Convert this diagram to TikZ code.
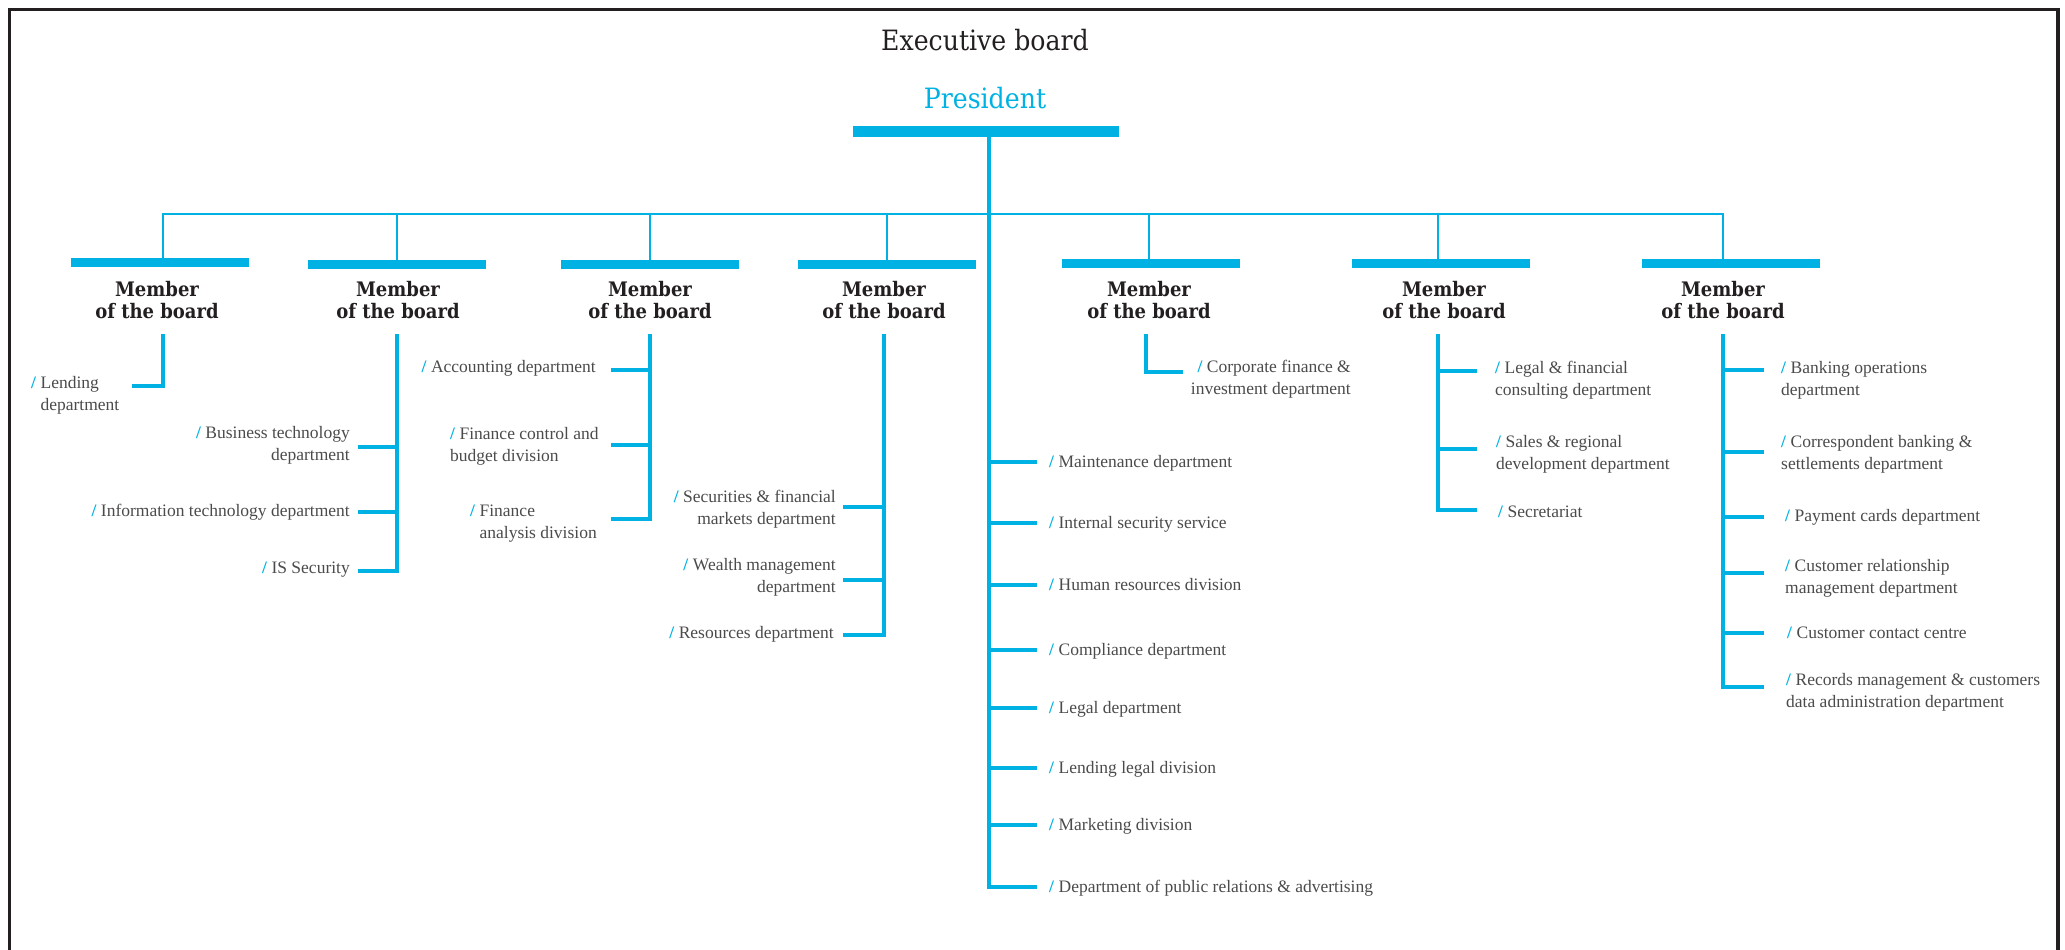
\documentclass[tikz,border=0pt]{standalone}
\usepackage{fontspec}
\setmainfont{Liberation Serif}
\newfontfamily\slab{DejaVu Serif Condensed}
\definecolor{cy}{RGB}{0,178,227}
\definecolor{dark}{RGB}{35,31,32}
\definecolor{txt}{RGB}{75,75,75}
\newcommand{\cslash}{\textcolor{cy}{\textbf{/}}\ }
\newcommand{\hangin}{\hphantom{\textbf{/}\ }}
\begin{document}
\begin{tikzpicture}[x=1pt,y=-1pt,
  bar/.style={fill=cy,draw=none,minimum width=178pt,minimum height=9pt,inner sep=0pt,anchor=north},
  thinline/.style={draw=cy,line width=2pt},
  branch/.style={draw=cy,line width=3.2pt},
  dept/.style={font=\fontsize{17.5}{22}\selectfont,text=txt,inner sep=0pt},
  head/.style={font=\slab\bfseries\fontsize{20}{22}\selectfont,text=dark,align=center,inner sep=0pt,anchor=north},
  frame/.style={draw=dark,line width=3.5pt}]
\useasboundingbox (0,0) rectangle (2065,950);
% frame (open at the bottom)
\coordinate (fbl) at (9.5,952);
\coordinate (ftl) at (9.5,9.5);
\coordinate (ftr) at (2058,9.5);
\coordinate (fbr) at (2058,952);
\draw[frame] (fbl) -- (ftl) -- (ftr) -- (fbr);

% titles
\node[font=\slab\fontsize{28}{32}\selectfont,text=dark,anchor=base,inner sep=0pt] (title) at (985,51) {Executive board};
\node[font=\slab\fontsize{28}{32}\selectfont,text=cy,anchor=base,inner sep=0pt] (pres) at (985,109) {President};
\node[fill=cy,minimum width=266pt,minimum height=11pt,inner sep=0pt,anchor=north] (pbar) at (986,126) {};

% member bars
\node[bar] (m1) at (160,258) {};
\node[bar] (m2) at (397,260) {};
\node[bar] (m3) at (650,260) {};
\node[bar] (m4) at (887,260) {};
\node[bar] (m5) at (1151,259) {};
\node[bar] (m6) at (1441,259) {};
\node[bar] (m7) at (1731,259) {};

% member headings
\foreach \x [count=\i] in {157,398,650,884,1149,1444,1723}{
  \node[head] (h\i) at (\x,280.6) {\strut Member\\of the board};
}

% bus
\coordinate (bus1) at (163,214);
\coordinate (bus7) at (1723,214);
\coordinate (d1) at (163,259);
\coordinate (d7) at (1723,259);
\draw[thinline] (d1) -- (bus1) -- (bus7) -- (d7);
\foreach \x [count=\i from 2] in {397,650,887,1149,1438}{
  \coordinate (bus\i) at (\x,214);
  \coordinate (d\i) at (\x,260);
  \draw[thinline] (bus\i) -- (d\i);
}

% president trunk
\coordinate (ptop) at (989,137);
\coordinate (pbot) at (989,887);
\coordinate (pend) at (1037,887);
\draw[branch] (ptop) -- (pbot) -- (pend);
\foreach \y [count=\i] in {462,523,585,650,708,768,825}{
  \coordinate (pa\i) at (989,\y);
  \coordinate (pb\i) at (1037,\y);
  \draw[branch] (pa\i) -- (pb\i);
}

% member 1
\coordinate (v1t) at (163,334);
\coordinate (v1b) at (163,386);
\coordinate (v1e) at (132,386);
\draw[branch] (v1t) -- (v1b) -- (v1e);
% member 2
\coordinate (v2t) at (397,334);
\coordinate (v2b) at (397,571);
\coordinate (v2e) at (358,571);
\draw[branch] (v2t) -- (v2b) -- (v2e);
\foreach \y [count=\i] in {447,512}{
  \coordinate (m2a\i) at (397,\y);
  \coordinate (m2b\i) at (358,\y);
  \draw[branch] (m2a\i) -- (m2b\i);
}
% member 3
\coordinate (v3t) at (650,334);
\coordinate (v3b) at (650,519);
\coordinate (v3e) at (611,519);
\draw[branch] (v3t) -- (v3b) -- (v3e);
\foreach \y [count=\i] in {370,445}{
  \coordinate (m3a\i) at (650,\y);
  \coordinate (m3b\i) at (611,\y);
  \draw[branch] (m3a\i) -- (m3b\i);
}
% member 4
\coordinate (v4t) at (884,334);
\coordinate (v4b) at (884,635);
\coordinate (v4e) at (843,635);
\draw[branch] (v4t) -- (v4b) -- (v4e);
\foreach \y [count=\i] in {507,580}{
  \coordinate (m4a\i) at (884,\y);
  \coordinate (m4b\i) at (843,\y);
  \draw[branch] (m4a\i) -- (m4b\i);
}
% member 5
\coordinate (v5t) at (1146,334);
\coordinate (v5b) at (1146,372);
\coordinate (v5e) at (1183,372);
\draw[branch] (v5t) -- (v5b) -- (v5e);
% member 6
\coordinate (v6t) at (1438,334);
\coordinate (v6b) at (1438,510);
\coordinate (v6e) at (1477,510);
\draw[branch] (v6t) -- (v6b) -- (v6e);
\foreach \y [count=\i] in {371,449}{
  \coordinate (m6a\i) at (1438,\y);
  \coordinate (m6b\i) at (1477,\y);
  \draw[branch] (m6a\i) -- (m6b\i);
}
% member 7
\coordinate (v7t) at (1723,334);
\coordinate (v7b) at (1723,687);
\coordinate (v7e) at (1764,687);
\draw[branch] (v7t) -- (v7b) -- (v7e);
\foreach \y [count=\i] in {370,452,517,573,633}{
  \coordinate (m7a\i) at (1723,\y);
  \coordinate (m7b\i) at (1764,\y);
  \draw[branch] (m7a\i) -- (m7b\i);
}

% labels, member 1
\node[dept,align=left,anchor=north west] (l11) at (31,372.6) {\strut\cslash Lending\\\hangin department};
% member 2
\node[dept,align=right,anchor=north east] (l21) at (350,422.6) {\strut\cslash Business technology\\department};
\node[dept,align=right,anchor=north east] (l22) at (350,500.6) {\strut\cslash Information technology department};
\node[dept,align=right,anchor=north east] (l23) at (350,557.6) {\strut\cslash IS Security};
% member 3
\node[dept,align=right,anchor=north east] (l31) at (596,356.6) {\strut\cslash Accounting department};
\node[dept,align=left,anchor=north west] (l32) at (450,423.6) {\strut\cslash Finance control and\\budget division};
\node[dept,align=left,anchor=north west] (l33) at (470,500.6) {\strut\cslash Finance\\\hangin analysis division};
% member 4
\node[dept,align=right,anchor=north east] (l41) at (836,486.6) {\strut\cslash Securities \& financial\\markets department};
\node[dept,align=right,anchor=north east] (l42) at (836,554.6) {\strut\cslash Wealth management\\department};
\node[dept,align=right,anchor=north east] (l43) at (834,622.6) {\strut\cslash Resources department};
% president
\node[dept,align=left,anchor=north west] (lp1) at (1049,451.6) {\strut\cslash Maintenance department};
\node[dept,align=left,anchor=north west] (lp2) at (1049,512.6) {\strut\cslash Internal security service};
\node[dept,align=left,anchor=north west] (lp3) at (1049,574.6) {\strut\cslash Human resources division};
\node[dept,align=left,anchor=north west] (lp4) at (1049,639.6) {\strut\cslash Compliance department};
\node[dept,align=left,anchor=north west] (lp5) at (1049,697.6) {\strut\cslash Legal department};
\node[dept,align=left,anchor=north west] (lp6) at (1049,757.6) {\strut\cslash Lending legal division};
\node[dept,align=left,anchor=north west] (lp7) at (1049,814.6) {\strut\cslash Marketing division};
\node[dept,align=left,anchor=north west] (lp8) at (1049,876.6) {\strut\cslash Department of public relations \& advertising};
% member 5
\node[dept,align=right,anchor=north east] (l51) at (1351,357.3) {\strut\cslash Corporate finance \&\\investment department};
% member 6
\node[dept,align=left,anchor=north west] (l61) at (1495,357.6) {\strut\cslash Legal \& financial\\consulting department};
\node[dept,align=left,anchor=north west] (l62) at (1496,431.6) {\strut\cslash Sales \& regional\\development department};
\node[dept,align=left,anchor=north west] (l63) at (1498,501.6) {\strut\cslash Secretariat};
% member 7
\node[dept,align=left,anchor=north west] (l71) at (1781,357.6) {\strut\cslash Banking operations\\department};
\node[dept,align=left,anchor=north west] (l72) at (1781,431.6) {\strut\cslash Correspondent banking \&\\settlements department};
\node[dept,align=left,anchor=north west] (l73) at (1785,505.6) {\strut\cslash Payment cards department};
\node[dept,align=left,anchor=north west] (l74) at (1785,555.6) {\strut\cslash Customer relationship\\management department};
\node[dept,align=left,anchor=north west] (l75) at (1787,622.6) {\strut\cslash Customer contact centre};
\node[dept,align=left,anchor=north west] (l76) at (1786,669.6) {\strut\cslash Records management \& customers\\data administration department};
\end{tikzpicture}
\end{document}
